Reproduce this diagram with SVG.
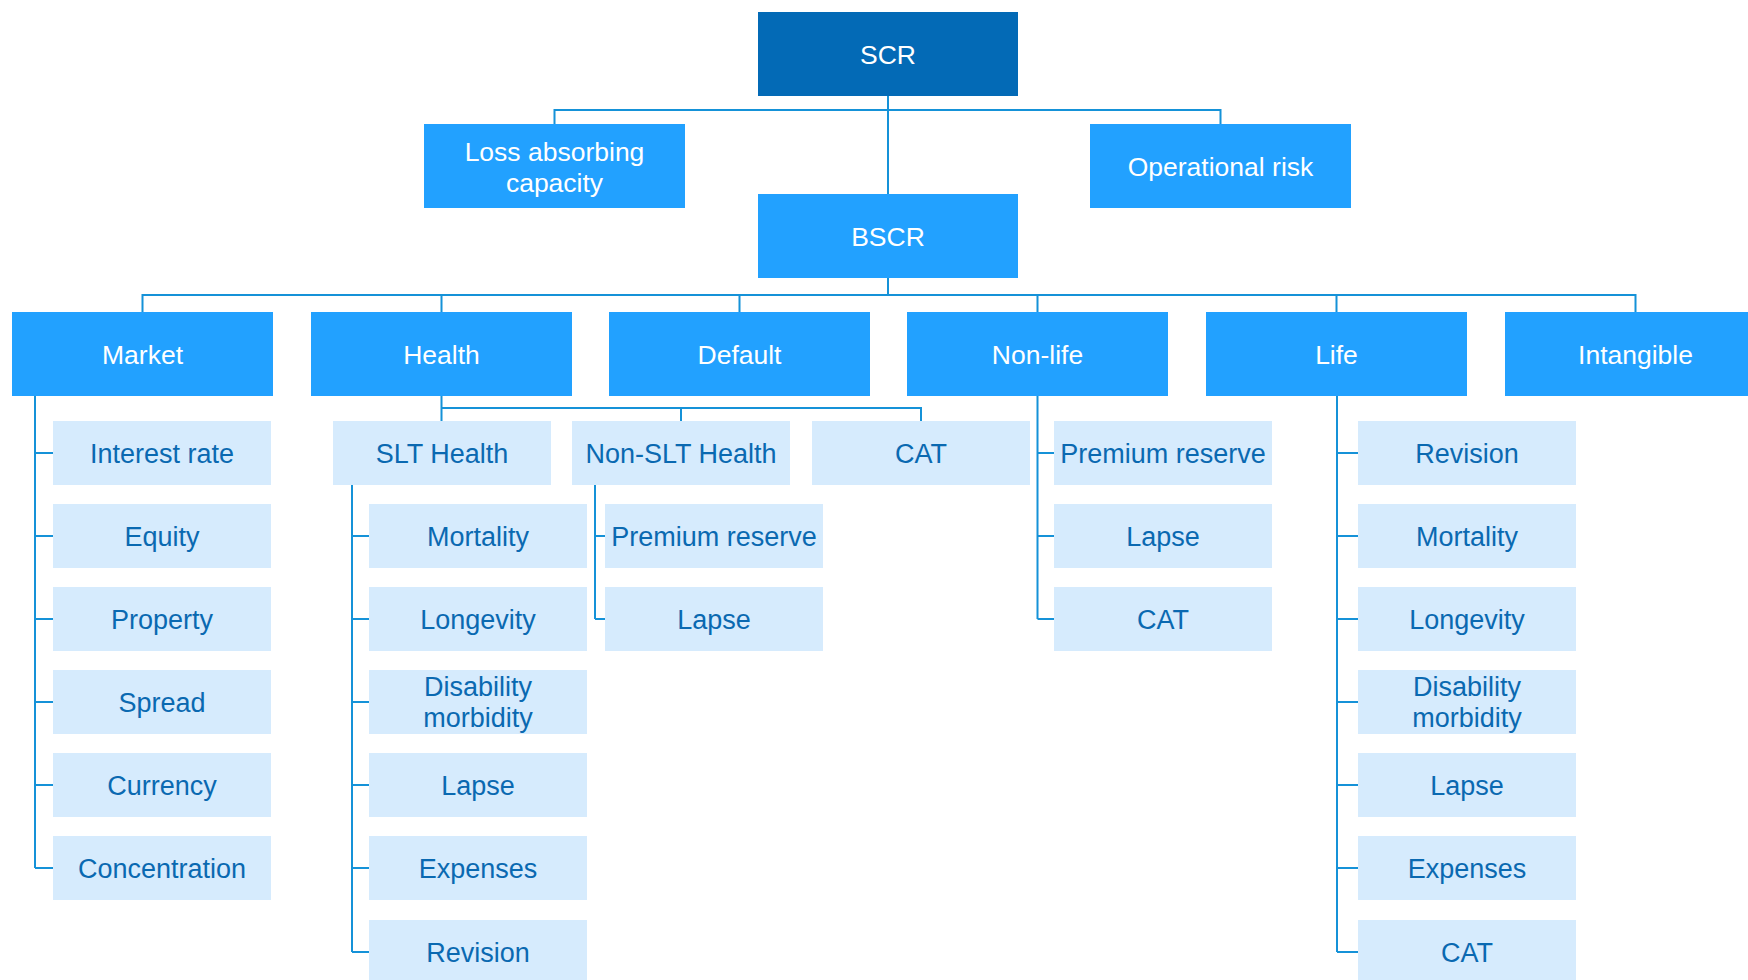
<svg xmlns="http://www.w3.org/2000/svg" width="1748" height="980" viewBox="0 0 1748 980">
<style>
.top{fill:#036AB6}
.l1{fill:#22A1FF}
.l2{fill:#D6EBFD}
.tw{fill:#FFFFFF;font-family:"Liberation Sans",Arial,sans-serif;font-size:26.5px;text-anchor:middle}
.td{fill:#0A69B1;font-family:"Liberation Sans",Arial,sans-serif;font-size:27px;text-anchor:middle}
.cn{fill:none;stroke:#1592D8;stroke-width:2}
</style>
<rect width="1748" height="980" fill="#FFFFFF"/>
<g id="connectors">
<path class="cn" d="M888 96V194M554.5 124V110H1220.5V124"/>
<path class="cn" d="M888 278V295M142.5 312V295H1635.5V312M441.5 295V312M739.5 295V312M1037.5 295V312M1336.5 295V312"/>
<path class="cn" d="M35 396V868M35 453H53M35 536H53M35 619H53M35 702H53M35 785H53M35 868H53"/>
<path class="cn" d="M441.5 396V421M441.5 408H921V421M681 408V421"/>
<path class="cn" d="M352 485V952M352 536H369M352 619H369M352 702H369M352 785H369M352 868H369M352 952H369"/>
<path class="cn" d="M595 485V619M595 536H605M595 619H605"/>
<path class="cn" d="M1037.5 396V619M1037.5 453H1054M1037.5 536H1054M1037.5 619H1054"/>
<path class="cn" d="M1337 396V952M1337 453H1358M1337 536H1358M1337 619H1358M1337 702H1358M1337 785H1358M1337 868H1358M1337 952H1358"/>
</g>
<g id="scr"><rect class="top" x="758" y="12" width="260" height="84"/><text class="tw" x="888" y="63.5">SCR</text></g>
<g id="loss"><rect class="l1" x="424" y="124" width="261" height="84"/><text class="tw" x="554.5" y="160.5">Loss absorbing</text><text class="tw" x="554.5" y="191.5">capacity</text></g>
<g id="oprisk"><rect class="l1" x="1090" y="124" width="261" height="84"/><text class="tw" x="1220.5" y="175.5">Operational risk</text></g>
<g id="bscr"><rect class="l1" x="758" y="194" width="260" height="84"/><text class="tw" x="888" y="245.5">BSCR</text></g>
<g id="market"><rect class="l1" x="12" y="312" width="261" height="84"/><text class="tw" x="142.5" y="363.5">Market</text></g>
<g id="health"><rect class="l1" x="311" y="312" width="261" height="84"/><text class="tw" x="441.5" y="363.5">Health</text></g>
<g id="default"><rect class="l1" x="609" y="312" width="261" height="84"/><text class="tw" x="739.5" y="363.5">Default</text></g>
<g id="nonlife"><rect class="l1" x="907" y="312" width="261" height="84"/><text class="tw" x="1037.5" y="363.5">Non-life</text></g>
<g id="life"><rect class="l1" x="1206" y="312" width="261" height="84"/><text class="tw" x="1336.5" y="363.5">Life</text></g>
<g id="intangible"><rect class="l1" x="1505" y="312" width="261" height="84"/><text class="tw" x="1635.5" y="363.5">Intangible</text></g>

<g id="m-interest"><rect class="l2" x="53" y="421" width="218" height="64"/><text class="td" x="162" y="462.5">Interest rate</text></g>
<g id="m-equity"><rect class="l2" x="53" y="504" width="218" height="64"/><text class="td" x="162" y="545.5">Equity</text></g>
<g id="m-property"><rect class="l2" x="53" y="587" width="218" height="64"/><text class="td" x="162" y="628.5">Property</text></g>
<g id="m-spread"><rect class="l2" x="53" y="670" width="218" height="64"/><text class="td" x="162" y="711.5">Spread</text></g>
<g id="m-currency"><rect class="l2" x="53" y="753" width="218" height="64"/><text class="td" x="162" y="794.5">Currency</text></g>
<g id="m-concentration"><rect class="l2" x="53" y="836" width="218" height="64"/><text class="td" x="162" y="877.5">Concentration</text></g>

<g id="h-slt"><rect class="l2" x="333" y="421" width="218" height="64"/><text class="td" x="442" y="462.5">SLT Health</text></g>
<g id="h-nonslt"><rect class="l2" x="572" y="421" width="218" height="64"/><text class="td" x="681" y="462.5">Non-SLT Health</text></g>
<g id="h-cat"><rect class="l2" x="812" y="421" width="218" height="64"/><text class="td" x="921" y="462.5">CAT</text></g>

<g id="slt-mortality"><rect class="l2" x="369" y="504" width="218" height="64"/><text class="td" x="478" y="545.5">Mortality</text></g>
<g id="slt-longevity"><rect class="l2" x="369" y="587" width="218" height="64"/><text class="td" x="478" y="628.5">Longevity</text></g>
<g id="slt-disability"><rect class="l2" x="369" y="670" width="218" height="64"/><text class="td" x="478" y="696">Disability</text><text class="td" x="478" y="727">morbidity</text></g>
<g id="slt-lapse"><rect class="l2" x="369" y="753" width="218" height="64"/><text class="td" x="478" y="794.5">Lapse</text></g>
<g id="slt-expenses"><rect class="l2" x="369" y="836" width="218" height="64"/><text class="td" x="478" y="877.5">Expenses</text></g>
<g id="slt-revision"><rect class="l2" x="369" y="920" width="218" height="64"/><text class="td" x="478" y="961.5">Revision</text></g>

<g id="nslt-premium"><rect class="l2" x="605" y="504" width="218" height="64"/><text class="td" x="714" y="545.5">Premium reserve</text></g>
<g id="nslt-lapse"><rect class="l2" x="605" y="587" width="218" height="64"/><text class="td" x="714" y="628.5">Lapse</text></g>

<g id="nl-premium"><rect class="l2" x="1054" y="421" width="218" height="64"/><text class="td" x="1163" y="462.5">Premium reserve</text></g>
<g id="nl-lapse"><rect class="l2" x="1054" y="504" width="218" height="64"/><text class="td" x="1163" y="545.5">Lapse</text></g>
<g id="nl-cat"><rect class="l2" x="1054" y="587" width="218" height="64"/><text class="td" x="1163" y="628.5">CAT</text></g>

<g id="l-revision"><rect class="l2" x="1358" y="421" width="218" height="64"/><text class="td" x="1467" y="462.5">Revision</text></g>
<g id="l-mortality"><rect class="l2" x="1358" y="504" width="218" height="64"/><text class="td" x="1467" y="545.5">Mortality</text></g>
<g id="l-longevity"><rect class="l2" x="1358" y="587" width="218" height="64"/><text class="td" x="1467" y="628.5">Longevity</text></g>
<g id="l-disability"><rect class="l2" x="1358" y="670" width="218" height="64"/><text class="td" x="1467" y="696">Disability</text><text class="td" x="1467" y="727">morbidity</text></g>
<g id="l-lapse"><rect class="l2" x="1358" y="753" width="218" height="64"/><text class="td" x="1467" y="794.5">Lapse</text></g>
<g id="l-expenses"><rect class="l2" x="1358" y="836" width="218" height="64"/><text class="td" x="1467" y="877.5">Expenses</text></g>
<g id="l-cat"><rect class="l2" x="1358" y="920" width="218" height="64"/><text class="td" x="1467" y="961.5">CAT</text></g>
</svg>
